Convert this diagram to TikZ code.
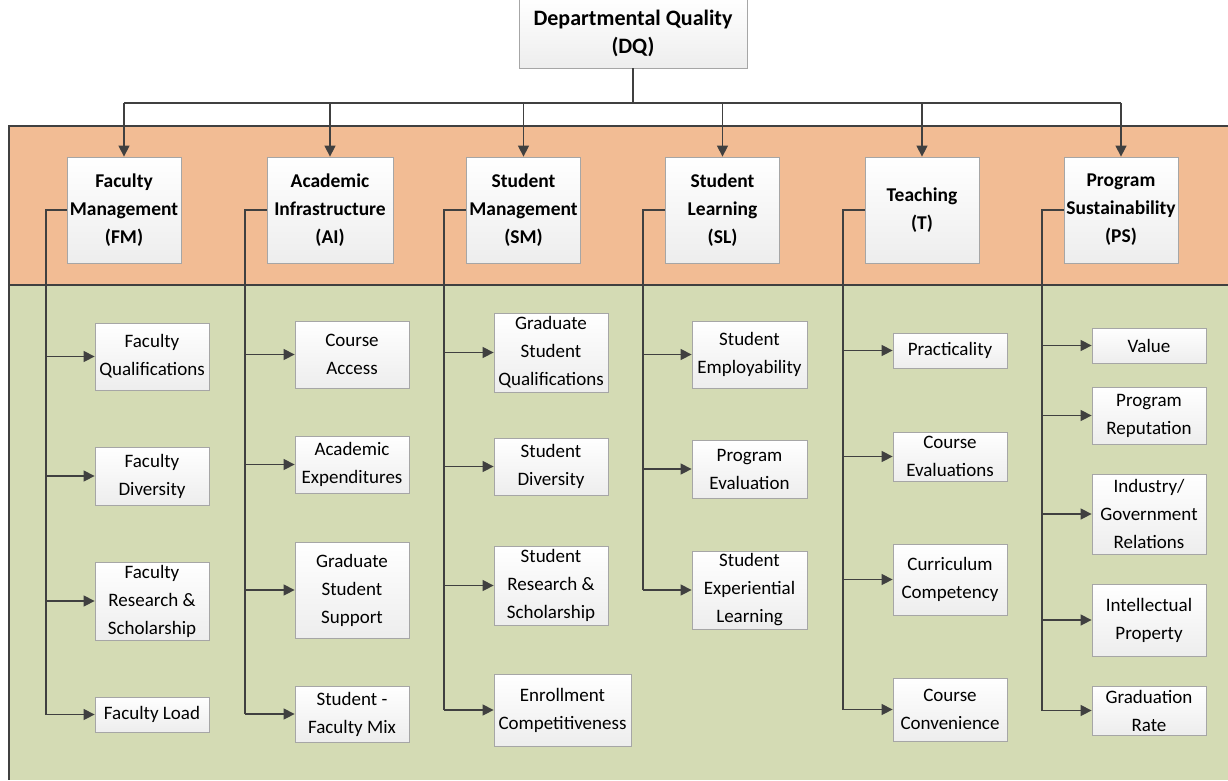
\documentclass[tikz,border=0pt]{standalone}
\usepackage{fontspec}
\setmainfont{Carlito}
\usetikzlibrary{arrows.meta}

\definecolor{bandorange}{HTML}{F2BC94}
\definecolor{bandgreen}{HTML}{D4DBB4}
\definecolor{linegray}{HTML}{404040}

\begin{document}
\begin{tikzpicture}[x=1pt,y=-1pt,>={Triangle[width=11pt,length=11pt]},
    box/.style={draw=gray!70,line width=0.8pt,top color=white,bottom color=gray!14,inner sep=0pt,align=center},
    cat node/.style={box,minimum width=114pt,minimum height=106pt,font=\fontsize{19.5}{28}\selectfont\bfseries},
    sub node/.style={box,minimum width=114pt,font=\fontsize{19}{28}\selectfont},
    wire/.style={draw=linegray,line width=1.4pt}]

\useasboundingbox (0,0) rectangle (1228,780);
\clip (0,0) rectangle (1228,780);

% bands
\fill[bandorange] (9,126) rectangle (1228,285);
\fill[bandgreen] (9,285) rectangle (1228,780);
\draw[linegray,line width=1.2pt] (1228,126) -- (9,126) -- (9,780) (9,285) -- (1228,285);

% top
\node[box,minimum width=228pt,minimum height=70pt,font=\fontsize{22}{28}\selectfont\bfseries] (dq) at (633,33) {Departmental Quality\\(DQ)};

% categories
\node[cat node]                      (fm) at (124,210)   {Faculty\\Management\\(FM)};
\node[cat node,minimum width=126pt]  (ai) at (330,210)   {Academic\\Infrastructure\\(AI)};
\node[cat node]                      (sm) at (523.5,210) {Student\\Management\\(SM)};
\node[cat node]                      (sl) at (722.5,210) {Student\\Learning\\(SL)};
\node[cat node]                      (t)  at (922,210)   {Teaching\\(T)};
\node[cat node]                      (ps) at (1121,210)  {Program\\Sustainability\\(PS)};

% FM
\node[sub node,minimum height=67pt] (fq) at (152,356.5) {Faculty\\Qualifications};
\node[sub node,minimum height=58pt] (fd) at (152,476)   {Faculty\\Diversity};
\node[sub node,minimum height=78pt] (fr) at (152,601)   {Faculty\\Research \&\\Scholarship};
\node[sub node,minimum height=35pt] (fl) at (152,714.5) {Faculty Load};

% AI
\node[sub node,minimum height=67pt] (ca) at (352,354.5) {Course\\Access};
\node[sub node,minimum height=57pt] (ae) at (352,464.5) {Academic\\Expenditures};
\node[sub node,minimum height=96pt] (gs) at (352,590)   {Graduate\\Student\\Support};
\node[sub node,minimum height=56pt] (sf) at (352,714)   {Student -\\Faculty Mix};

% SM
\node[sub node,minimum height=79pt] (gq) at (551,352.5) {Graduate\\Student\\Qualifications};
\node[sub node,minimum height=57pt] (sd) at (551,466.5) {Student\\Diversity};
\node[sub node,minimum height=79pt] (sr) at (551,585.5) {Student\\Research \&\\Scholarship};
\node[sub node,minimum height=72pt,minimum width=137pt] (ec) at (562.5,710) {Enrollment\\Competitiveness};

% SL
\node[sub node,minimum height=67pt,minimum width=115pt] (se) at (749.5,354.5) {Student\\Employability};
\node[sub node,minimum height=58pt,minimum width=115pt] (pe) at (749.5,469)   {Program\\Evaluation};
\node[sub node,minimum height=78pt,minimum width=115pt] (sx) at (749.5,590)   {Student\\Experiential\\Learning};

% T
\node[sub node,minimum height=35pt] (pr) at (950,350.5) {Practicality};
\node[sub node,minimum height=49pt] (ce) at (950,456.5) {Course\\Evaluations};
\node[sub node,minimum height=71pt] (cc) at (950,579.5) {Curriculum\\Competency};
\node[sub node,minimum height=63pt] (cv) at (950,709.5) {Course\\Convenience};

% PS
\node[sub node,minimum height=35pt] (va) at (1149,345.5) {Value};
\node[sub node,minimum height=57pt] (rp) at (1149,415.5) {Program\\Reputation};
\node[sub node,minimum height=80pt] (ig) at (1149,514)   {Industry/\\Government\\Relations};
\node[sub node,minimum height=72pt] (ip) at (1149,620)   {Intellectual\\Property};
\node[sub node,minimum height=49pt] (gr) at (1149,710.5) {Graduation\\Rate};

% DQ to categories
\coordinate (bus) at (633,103);
\draw[wire] (dq.south) -- (bus);
\draw[wire] (fm.north |- bus) -- (ps.north |- bus);
\foreach \c in {fm,ai,sm,sl,t,ps}
  \draw[wire,->] (\c.north |- bus) -- (\c.north);

% branches
\foreach \c/\x/\last in {fm/46/fl,ai/245/sf,sm/444/ec,sl/643/sx,t/843/cv,ps/1042/gr}{
  \coordinate (\c b) at (\x,210);
  \draw[wire] (\c.west) -- (\c b) -- (\c b |- \last.west);
}
\foreach \c/\k in {fm/fq,fm/fd,fm/fr,fm/fl,ai/ca,ai/ae,ai/gs,ai/sf,
                   sm/gq,sm/sd,sm/sr,sm/ec,sl/se,sl/pe,sl/sx,
                   t/pr,t/ce,t/cc,t/cv,ps/va,ps/rp,ps/ig,ps/ip,ps/gr}
  \draw[wire,->] (\c b |- \k.west) -- (\k.west);

\end{tikzpicture}
\end{document}
